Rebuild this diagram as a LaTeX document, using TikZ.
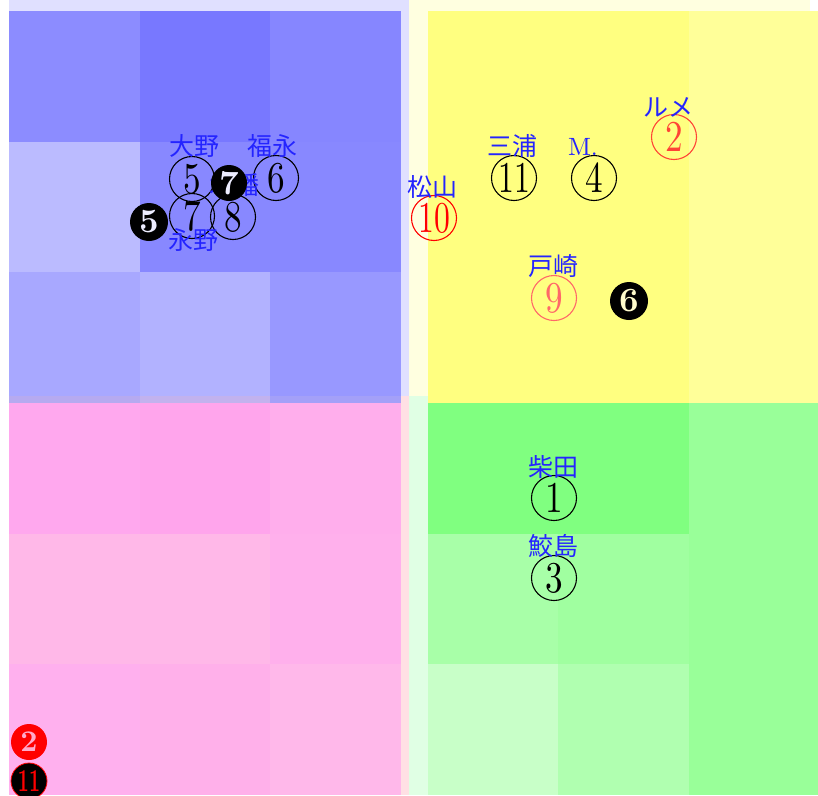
\documentclass[tikz,border=0pt]{standalone}
\usepackage{fontspec}
\usepackage{graphicx}
\usepackage{tikz}
\usetikzlibrary{positioning}
\newfontfamily\jpfont{Noto Sans CJK JP}
\newfontfamily\numfont{lmroman10-regular}[Extension=.otf, BoldFont=lmroman10-bold]
\definecolor{tlBg}{HTML}{E0E0FF}
\definecolor{trBg}{HTML}{FFFFE0}
\definecolor{blBg}{HTML}{FFE0E4}
\definecolor{brBg}{HTML}{E0FFE4}
\definecolor{lblBlue}{HTML}{2424FF}
\definecolor{favRed}{HTML}{FF4436}
\definecolor{hotRed}{HTML}{FF0000}
\definecolor{softRed}{HTML}{FF6868}
\definecolor{holePink}{HTML}{FFAACC}
\newcommand{\cnum}[1]{\scalebox{0.8}[1]{#1}}
\newcommand{\cnumw}[1]{\scalebox{0.72}[1]{#1}}

\begin{document}
\begin{tikzpicture}[
    x=1pt, y=-1pt,
    jockey/.style={text=lblBlue, inner sep=0pt, font=\jpfont\fontsize{25}{25}\selectfont},
    circnum/.style={circle, draw, line width=1.1pt, minimum size=45pt, inner sep=0pt, font=\numfont\fontsize{44}{44}\selectfont},
    blacknum/.style={circle, fill=black, text=white, minimum size=37pt, inner sep=0pt, font=\numfont\bfseries\fontsize{34}{34}\selectfont},
]
    \useasboundingbox (0,0) rectangle (818,795);
    % quadrant backgrounds
    \fill[tlBg] (9,0) rectangle (409,396);
    \fill[trBg] (409,0) rectangle (810,396);
    \fill[blBg] (9,396) rectangle (409,795);
    \fill[brBg] (409,396) rectangle (818,795);
    % 3x3 cells of each quadrant
    \foreach \i/\j/\c in {0/0/8C8CFF, 1/0/7878FF, 2/0/8686FF,
                          0/1/BBBBFF, 1/1/8888FF, 2/1/8888FF,
                          0/2/A8A8FF, 1/2/B2B2FF, 2/2/9898FF} {
        \definecolor{cell}{HTML}{\c}
        \fill[cell] ({9+130.67*\i},{11+130.67*\j}) rectangle +(130.67,130.67);
    }
    \foreach \i/\j/\c in {0/0/FFFF80, 1/0/FFFF80, 2/0/FFFF99,
                          0/1/FFFF80, 1/1/FFFF80, 2/1/FFFF99,
                          0/2/FFFF80, 1/2/FFFF80, 2/2/FFFF99} {
        \definecolor{cell}{HTML}{\c}
        \fill[cell] ({428+130.3*\i},{11+130.67*\j}) rectangle +(130.3,130.67);
    }
    \foreach \i/\j/\c in {0/0/FFA8EE, 1/0/FFA5EC, 2/0/FFAEEC,
                          0/1/FFB8E8, 1/1/FFB8E8, 2/1/FFB0EC,
                          0/2/FFB0EE, 1/2/FFB0EA, 2/2/FFB8EA} {
        \definecolor{cell}{HTML}{\c}
        \fill[cell] ({9+130.67*\i},{403+130.67*\j}) rectangle +(130.67,130.67);
    }
    \foreach \i/\j/\c in {0/0/80FF80, 1/0/80FF80, 2/0/99FF99,
                          0/1/A8FFA8, 1/1/A0FFA0, 2/1/99FF99,
                          0/2/C8FFC8, 1/2/B0FFB0, 2/2/99FF99} {
        \definecolor{cell}{HTML}{\c}
        \fill[cell] ({428+130.3*\i},{403+130.67*\j}) rectangle +(130.3,130.67);
    }
    % pink over blue seam
    \foreach \i/\c in {0/B6AAF0, 1/C2B2EE, 2/A4A0F8} {
        \definecolor{cell}{HTML}{\c}
        \fill[cell] ({9+130.67*\i},396) rectangle +(130.67,7);
    }

    % open circled numbers
    \node[circnum] (n5) at (192,179) {\cnum{5}};
    \node[circnum] (n6) at (276,178) {\cnum{6}};
    \node[circnum] (n7) at (192,216) {\cnum{7}};
    \node[circnum] (n8) at (233,217) {\cnum{8}};
    \node[circnum, draw=hotRed, text=hotRed] (n10) at (434,218) {\cnumw{10}};
    \node[circnum] (n11) at (514,178) {\cnumw{11}};
    \node[circnum] (n4) at (594,178) {\cnum{4}};
    \node[circnum, draw=favRed, text=favRed] (n2) at (674,137) {\cnum{2}};
    \node[circnum, draw=softRed, text=softRed] (n9) at (554,298) {\cnum{9}};
    \node[circnum] (n1) at (554,498) {\cnum{1}};
    \node[circnum] (n3) at (554,578) {\cnum{3}};

    % jockey names
    \node[jockey] (ono) at (194,146) {大野};
    \node[jockey] (fukunaga) at (272,146) {福永};
    \node[jockey] (kohata) at (234,185) {木幡};
    \node[jockey] (nagano) at (193,240) {永野};
    \node[jockey] (matsuyama) at (432,187) {松山};
    \node[jockey] (miura) at (512,146) {三浦};
    \node[jockey, font=\numfont\fontsize{25}{25}\selectfont] (demuro) at (583,147) {M.};
    \node[jockey] (lemaire) at (668,107) {ルメ};
    \node[jockey] (tosaki) at (553,266) {戸崎};
    \node[jockey] (shibata) at (553,467) {柴田};
    \node[jockey] (samejima) at (553,546) {鮫島};

    % filled circled numbers
    \node[blacknum, minimum size=36pt, text=white!93!blue] (b7) at (229,183) {7};
    \node[blacknum, minimum size=38pt, text=white!93!blue] (b5) at (149,222) {5};
    \node[blacknum, minimum size=38pt, text=yellow!20] (b6) at (629,301) {6};
    \node[blacknum, fill=hotRed, text=holePink, minimum size=36pt, font=\numfont\bfseries\fontsize{30}{30}\selectfont] (b2) at (29,742) {2};
    \node[blacknum, draw=hotRed, line width=0.8pt, text=hotRed, minimum size=36pt, font=\numfont\bfseries\fontsize{32}{32}\selectfont] (b11) at (29,781) {\scalebox{0.6}[1]{11}};
\end{tikzpicture}
\end{document}
